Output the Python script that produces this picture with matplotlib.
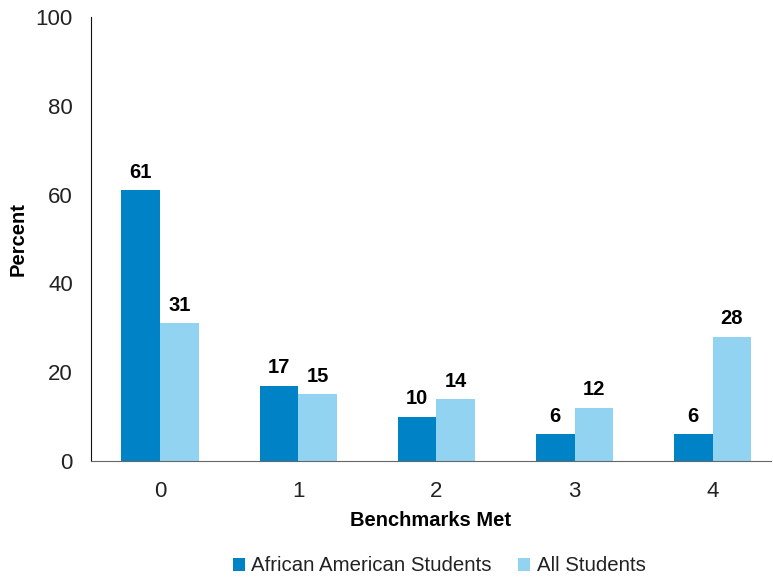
import matplotlib
matplotlib.use("Agg")
import matplotlib.pyplot as plt
import numpy as np

categories = ["0", "1", "2", "3", "4"]
african_american = [61, 17, 10, 6, 6]
all_students = [31, 15, 14, 12, 28]
series_names = ["African American Students", "All Students"]
colors = ["#0083C6", "#92D3F2"]

plt.rcParams["font.family"] = ["Liberation Sans", "DejaVu Sans"]

fig = plt.figure(figsize=(7.73, 5.78), dpi=100)
ax = fig.add_axes([0.1177, 0.2024, 0.8793, 0.7682])

x = np.arange(len(categories))
w = 0.28
b1 = ax.bar(x - w / 2, african_american, w, color=colors[0], label=series_names[0])
b2 = ax.bar(x + w / 2, all_students, w, color=colors[1], label=series_names[1])
for bars in (b1, b2):
    ax.bar_label(bars, padding=6, fontsize=14.5, fontweight="bold")

ax.set_ylim(0, 100)
ax.set_xlim(-0.5, 4.42)
ax.set_yticks(range(0, 101, 20))
ax.set_xticks(x)
ax.set_xticklabels(categories)
ax.tick_params(length=0, labelsize=16, colors="#222222")
ax.tick_params(axis="x", pad=14.5)
ax.tick_params(axis="y", pad=13)

for s in ("top", "right"):
    ax.spines[s].set_visible(False)
ax.spines["left"].set_color("#111111")
ax.spines["bottom"].set_color("#666666")

ax.set_xlabel("Benchmarks Met", fontsize=14.5, fontweight="bold")
ax.xaxis.set_label_coords(0.5, -0.133)
ax.set_ylabel("Percent", fontsize=14.5, fontweight="bold")
ax.yaxis.set_label_coords(-0.107, 0.5)
ax.yaxis.label.set_va("center")
ax.xaxis.label.set_va("center")

fig.legend(loc="center", bbox_to_anchor=(0.568, 0.021), ncol=2, frameon=False,
           fontsize=14.7, handlelength=0.6, handleheight=0.6, handletextpad=0.3,
           columnspacing=1.3, labelcolor="#222222")

fig.savefig("out.png", dpi=100)
